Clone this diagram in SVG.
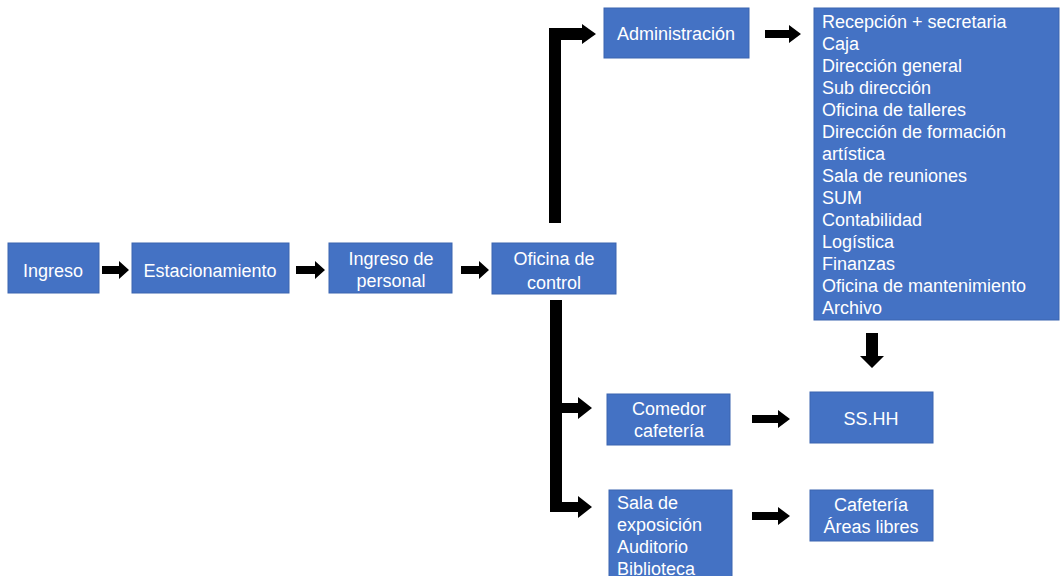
<svg xmlns="http://www.w3.org/2000/svg" width="1060" height="576" viewBox="0 0 1060 576">
<style>
.box{fill:#4472C4;stroke:#3A64B0;stroke-width:1}
.t{font-family:"Liberation Sans",Arial,sans-serif;font-size:18px;fill:#FFFFFF}
.c{text-anchor:middle}
.arr{fill:#000000}
</style>
<rect width="1060" height="576" fill="#FFFFFF"/>
<g id="connectors">
<path class="arr" d="M102,266 H119 V261 L129,270 L119,279 V274 H102 Z"/>
<path class="arr" d="M296,266 H315 V261 L325,270 L315,279 V274 H296 Z"/>
<path class="arr" d="M461,266 H479 V261 L489,270 L479,279 V274 H461 Z"/>
<path class="arr" d="M765,30 H789 V25 L801,34 L789,43 V38 H765 Z"/>
<path class="arr" d="M752,415 H778 V410 L790,419 L778,428 V423 H752 Z"/>
<path class="arr" d="M752,512 H778 V507 L790,516 L778,525 V520 H752 Z"/>
<path class="arr" d="M866,333 H878 V356 H884 L872,368 L860,356 H866 Z"/>
<path class="arr" d="M549,223 V28 H582 V24 L596,34 L582,44 V40 H561 V223 Z"/>
<path class="arr" d="M550,300 H562 V403 H578 V397 L592,408 L578,419 V413 H562 V502 H578 V496 L592,507 L578,518 V512 H550 Z"/>
</g>
<g id="ingreso"><rect class="box" x="8" y="243" width="91" height="50"/><text class="t c" x="53" y="276.5">Ingreso</text></g>
<g id="estacionamiento"><rect class="box" x="132" y="243" width="157" height="50"/><text class="t c" x="210" y="276.5">Estacionamiento</text></g>
<g id="ingreso-personal"><rect class="box" x="329" y="243" width="123" height="50"/><text class="t c" x="391" y="264.5">Ingreso de</text><text class="t c" x="391" y="287">personal</text></g>
<g id="oficina-control"><rect class="box" x="492" y="243" width="124" height="51"/><text class="t c" x="554" y="264.5">Oficina de</text><text class="t c" x="554" y="288.5">control</text></g>
<g id="administracion"><rect class="box" x="604" y="8" width="145" height="50"/><text class="t c" x="676" y="39.5">Administración</text></g>
<g id="lista-administracion"><rect class="box" x="814" y="8" width="245" height="312"/>
<text class="t" x="822" y="27.5">Recepción + secretaria<tspan x="822" dy="22.07">Caja</tspan><tspan x="822" dy="22.07">Dirección general</tspan><tspan x="822" dy="22.07">Sub dirección</tspan><tspan x="822" dy="22.07">Oficina de talleres</tspan><tspan x="822" dy="22.07">Dirección de formación</tspan><tspan x="822" dy="22.07">artística</tspan><tspan x="822" dy="22.07">Sala de reuniones</tspan><tspan x="822" dy="22.07">SUM</tspan><tspan x="822" dy="22.07">Contabilidad</tspan><tspan x="822" dy="22.07">Logística</tspan><tspan x="822" dy="22.07">Finanzas</tspan><tspan x="822" dy="22.07">Oficina de mantenimiento</tspan><tspan x="822" dy="22.07">Archivo</tspan></text></g>
<g id="comedor"><rect class="box" x="607" y="394" width="123" height="51"/><text class="t c" x="669" y="414.5">Comedor</text><text class="t c" x="669" y="436.5">cafetería</text></g>
<g id="sshh"><rect class="box" x="810" y="392" width="123" height="51"/><text class="t c" x="871" y="424.5">SS.HH</text></g>
<g id="sala"><rect class="box" x="609" y="490" width="123" height="90"/><text class="t" x="617" y="508.5">Sala de<tspan x="617" dy="22">exposición</tspan><tspan x="617" dy="22">Auditorio</tspan><tspan x="617" dy="22">Biblioteca</tspan></text></g>
<g id="cafeteria"><rect class="box" x="810" y="490" width="123" height="51"/><text class="t c" x="871" y="510.5">Cafetería</text><text class="t c" x="871" y="532.5">Áreas libres</text></g>
</svg>
